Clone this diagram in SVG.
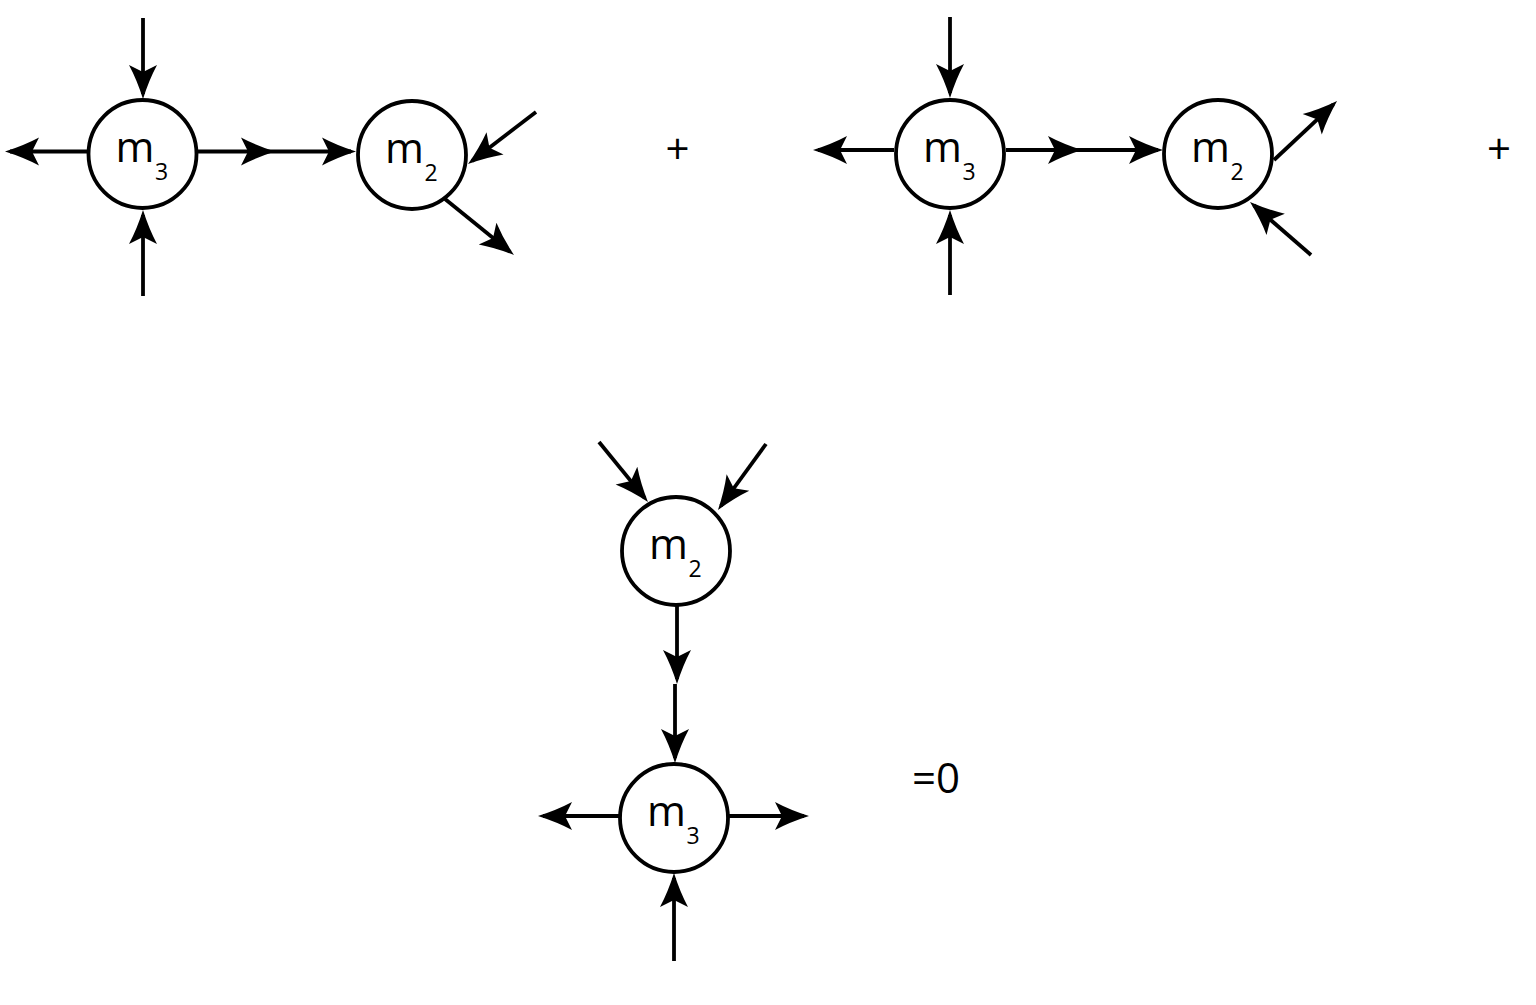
<svg xmlns="http://www.w3.org/2000/svg" width="1536" height="1005" viewBox="0 0 1536 1005">
<style>
.node circle{fill:#fff;stroke:#000;stroke-width:3.8}
.lbl{font-family:"Open Sans","Liberation Sans",sans-serif;font-size:42px;fill:#000}
.sub{font-size:23px}
.op{font-family:"Open Sans","Liberation Sans",sans-serif;font-size:42px;fill:#000}
.conn path{fill:none;stroke:#000;stroke-width:3.8;marker-end:url(#ah)}
</style>
<defs>
<marker id="ah" viewBox="-36 -16 38 32" refX="-5" refY="0" markerWidth="38" markerHeight="32" markerUnits="userSpaceOnUse" orient="auto">
<path d="M0,0 Q-19,-6 -34,-14 L-27,0 L-34,14 Q-19,6 0,0 Z" fill="#000"/>
</marker>
</defs>
<rect width="1536" height="1005" fill="#fff"/>
<g id="connectors" class="conn">
<path d="M143,18 V94"/>
<path d="M143,296 V215"/>
<path d="M88,151.5 H10"/>
<path d="M198,151.5 H270"/>
<path d="M270,151.5 H351"/>
<path d="M536,112 L472,161"/>
<path d="M445,199 L510.1,251.9"/>
<path d="M950,17 V93"/>
<path d="M950,295 V215"/>
<path d="M894,150 H818"/>
<path d="M1006,150 H1077"/>
<path d="M1077,150 H1158"/>
<path d="M1274,160 L1333.4,104.4"/>
<path d="M1311,255 L1253.8,205.3"/>
<path d="M599,442 L644.8,498.1"/>
<path d="M766,444 L720.9,506"/>
<path d="M677,605 V679"/>
<path d="M675,684 V758"/>
<path d="M619,816 H543"/>
<path d="M729,816 H804"/>
<path d="M674,961 V878"/>
</g>
<g id="d1-m3" class="node"><circle cx="142.5" cy="154" r="54"/><text class="lbl" x="115.5" y="161.5">m<tspan class="sub" x="155" y="179.5">3</tspan></text></g>
<g id="d1-m2" class="node"><circle cx="412" cy="155" r="54"/><text class="lbl" x="385" y="162.5">m<tspan class="sub" x="424.5" y="180.5">2</tspan></text></g>
<g id="d2-m3" class="node"><circle cx="950" cy="154" r="54"/><text class="lbl" x="923" y="161.5">m<tspan class="sub" x="962.5" y="179.5">3</tspan></text></g>
<g id="d2-m2" class="node"><circle cx="1218" cy="154" r="54"/><text class="lbl" x="1191" y="161.5">m<tspan class="sub" x="1230.5" y="179.5">2</tspan></text></g>
<g id="d3-m2" class="node"><circle cx="676" cy="551" r="54"/><text class="lbl" x="649" y="559">m<tspan class="sub" x="688.5" y="577">2</tspan></text></g>
<g id="d3-m3" class="node"><circle cx="674" cy="818" r="54"/><text class="lbl" x="647" y="825.5">m<tspan class="sub" x="686.5" y="843.5">3</tspan></text></g>
<g id="operators">
<text class="op" x="677.5" y="164" text-anchor="middle">+</text>
<text class="op" x="1499" y="164" text-anchor="middle">+</text>
<text class="op" x="912" y="793">=0</text>
</g>
</svg>
